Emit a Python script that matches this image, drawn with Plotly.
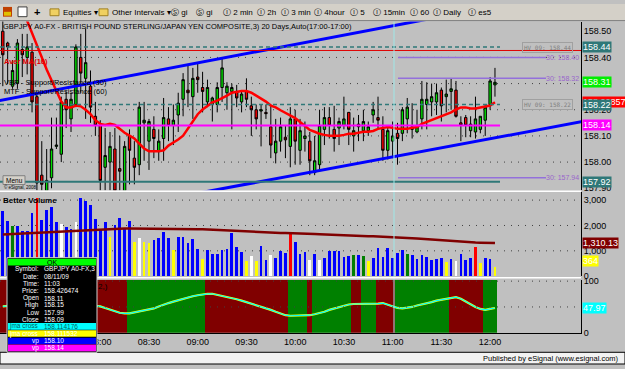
import plotly.graph_objects as go
import pandas as pd

W, H = 625, 369

# ---------------- data ----------------
times = pd.date_range("2009-08-11 07:00", periods=102, freq="3min")

opens = [158.50, 158.455, 158.29, 158.30, 158.43, 158.40, 158.42, 158.25, 157.95, 157.89,
         157.94, 158.06, 158.03, 158.24, 158.165, 158.22, 158.40, 158.32, 158.29, 158.175,
         158.14, 157.98, 158.00, 158.05, 157.975, 157.89, 158.10, 158.015, 157.99, 158.15,
         158.08, 158.125, 158.04, 158.09, 158.165, 158.14, 158.18, 158.24, 158.275, 158.25,
         158.325, 158.285, 158.23, 158.22, 158.22, 158.285, 158.265, 158.27, 158.27, 158.23,
         158.27, 158.215, 158.20, 158.195, 158.19, 158.135, 158.035, 158.08, 158.095, 158.06,
         158.165, 158.045, 158.09, 158.08, 157.96, 157.99, 158.125, 158.17, 158.125, 158.13,
         158.14, 158.19, 158.10, 158.145, 158.12, 158.12, 158.18, 158.17, 158.125, 158.045,
         158.08, 158.11, 158.11, 158.165, 158.125, 158.115, 158.165, 158.22, 158.23, 158.23,
         158.275, 158.25, 158.27, 158.275, 158.15, 158.17, 158.12, 158.115, 158.125, 158.16,
         158.22, 158.295]
highs = [158.54, 158.46, 158.39, 158.47, 158.49, 158.49, 158.455, 158.27, 158.08, 158.05,
         158.17, 158.17, 158.25, 158.27, 158.265, 158.45, 158.49, 158.51, 158.35, 158.23,
         158.16, 158.13, 158.115, 158.13, 158.10, 158.08, 158.125, 158.08, 158.23, 158.23,
         158.165, 158.175, 158.125, 158.245, 158.21, 158.22, 158.265, 158.34, 158.375, 158.36,
         158.375, 158.345, 158.315, 158.25, 158.305, 158.40, 158.305, 158.30, 158.295, 158.275,
         158.32, 158.25, 158.22, 158.22, 158.22, 158.22, 158.165, 158.17, 158.14, 158.21,
         158.20, 158.165, 158.155, 158.115, 158.10, 158.20, 158.21, 158.21, 158.215, 158.17,
         158.25, 158.19, 158.17, 158.18, 158.20, 158.155, 158.23, 158.25, 158.175, 158.14,
         158.155, 158.15, 158.21, 158.245, 158.225, 158.20, 158.31, 158.305, 158.30, 158.30,
         158.285, 158.315, 158.32, 158.31, 158.175, 158.18, 158.175, 158.25, 158.175, 158.22,
         158.325, 158.36]
lows = [158.29, 158.30, 158.28, 158.28, 158.325, 158.335, 158.19, 157.88, 157.87, 157.87,
        157.90, 158.05, 158.00, 158.13, 158.115, 158.21, 158.265, 158.165, 158.15, 158.10,
        157.87, 157.87, 157.89, 157.87, 157.87, 157.87, 157.915, 157.915, 157.95, 158.005,
        157.97, 158.015, 158.005, 158.005, 158.08, 158.065, 158.115, 158.175, 158.21, 158.165,
        158.265, 158.19, 158.21, 158.155, 158.19, 158.23, 158.20, 158.125, 158.21, 158.19,
        158.21, 158.10, 158.125, 158.06, 158.165, 158.015, 157.995, 158.04, 158.015, 157.98,
        157.99, 157.99, 158.04, 157.95, 157.95, 157.965, 158.065, 158.09, 158.04, 158.065,
        158.125, 158.065, 158.04, 158.08, 158.08, 158.10, 158.15, 158.125, 158.005, 158.01,
        158.015, 157.99, 158.08, 158.11, 158.09, 158.11, 158.125, 158.125, 158.175, 158.18,
        158.155, 158.19, 158.20, 158.17, 158.08, 158.095, 158.095, 158.09, 158.11, 158.10,
        158.20, 158.25]
closes = [158.41, 158.44, 158.35, 158.455, 158.41, 158.44, 158.23, 157.92, 157.915, 157.93,
          158.05, 158.065, 158.23, 158.20, 158.24, 158.44, 158.34, 158.38, 158.21, 158.14,
          157.93, 158.025, 158.06, 157.89, 157.965, 158.06, 158.045, 157.98, 158.21, 158.16,
          158.155, 158.09, 158.08, 158.17, 158.14, 158.16, 158.225, 158.315, 158.265, 158.32,
          158.315, 158.27, 158.285, 158.245, 158.285, 158.36, 158.29, 158.285, 158.245, 158.26,
          158.24, 158.20, 158.165, 158.20, 158.185, 158.065, 158.08, 158.135, 158.085, 158.165,
          158.08, 158.12, 158.10, 158.005, 158.005, 158.14, 158.17, 158.14, 158.09, 158.155,
          158.165, 158.125, 158.12, 158.135, 158.155, 158.135, 158.20, 158.16, 158.045, 158.12,
          158.10, 158.09, 158.20, 158.21, 158.135, 158.135, 158.24, 158.24, 158.25, 158.265,
          158.215, 158.26, 158.28, 158.175, 158.14, 158.14, 158.145, 158.165, 158.175, 158.21,
          158.31, 158.305]
ma10 = [158.76, 158.72, 158.68, 158.64, 158.586, 158.54, 158.49, 158.444, 158.396, 158.354,
        158.313, 158.269, 158.231, 158.209, 158.209, 158.216, 158.213, 158.20, 158.183, 158.16,
        158.146, 158.142, 158.146, 158.142, 158.127, 158.112, 158.101, 158.09, 158.071, 158.052,
        158.041, 158.041, 158.041, 158.045, 158.063, 158.075, 158.086, 158.101, 158.127, 158.157,
        158.183, 158.201, 158.213, 158.228, 158.235, 158.243, 158.254, 158.265, 158.269, 158.272,
        158.272, 158.265, 158.254, 158.243, 158.231, 158.216, 158.209, 158.198, 158.187, 158.179,
        158.168, 158.153, 158.138, 158.123, 158.116, 158.108, 158.104, 158.101, 158.101, 158.101,
        158.104, 158.108, 158.108, 158.112, 158.116, 158.116, 158.119, 158.127, 158.131, 158.134,
        158.131, 158.127, 158.127, 158.127, 158.131, 158.134, 158.146, 158.153, 158.16, 158.168,
        158.175, 158.183, 158.19, 158.201, 158.209, 158.209, 158.205, 158.205, 158.209, 158.213,
        158.216, 158.2286]

volume = [2560, 2160, 1950, 1950, 1773, 1773, 2480, 3080, 2213, 2613,
          2706, 2106, 2040, 1946, 1853, 2106, 3080, 2973, 2813, 2253,
          1853, 2106, 1546, 2013, 2280, 1906, 2173, 1346, 1480, 1346,
          1280, 1413, 1480, 1720, 1506, 1040, 1520, 1520, 1280, 1440,
          1080, 653, 1013, 853, 853, 1013, 1080, 1680, 1146, 946,
          573, 773, 573, 1173, 613, 813, 720, 973, 920, 1720,
          1346, 880, 946, 613, 880, 613, 706, 973, 973, 973,
          746, 773, 813, 813, 786, 573, 706, 1120, 746, 1120,
          720, 920, 1013, 880, 813, 653, 813, 746, 613, 680,
          720, 546, 680, 573, 866, 613, 720, 1146, 520, 720,
          653, 364]
vol_kind = list("bbgbbbbrbb" "bbwbbwbbbb" "bbybbbbywy" "ybbbbybbbb" "bybbbbbbbb"
                "ywybbwbbbr" "bbbwbwbbbb" "bbgbgybbbb" "bbbgbbbbbb" "bybwbbbryb" "by")
vol_ma = [1645, 1655, 1665, 1675, 1685, 1695, 1715, 1725, 1735, 1745,
          1755, 1765, 1775, 1785, 1795, 1805, 1810, 1815, 1825, 1835,
          1845, 1860, 1870, 1875, 1880, 1880, 1880, 1880, 1880, 1880,
          1880, 1878, 1876, 1874, 1872, 1870, 1866, 1862, 1858, 1855,
          1855, 1850, 1840, 1830, 1815, 1800, 1790, 1780, 1770, 1760,
          1745, 1738, 1731, 1724, 1717, 1712, 1708, 1705, 1702, 1700,
          1698, 1690, 1682, 1672, 1662, 1652, 1642, 1632, 1622, 1614,
          1600, 1595, 1590, 1585, 1580, 1575, 1570, 1565, 1560, 1555,
          1550, 1540, 1530, 1515, 1500, 1485, 1470, 1455, 1440, 1425,
          1415, 1400, 1385, 1370, 1355, 1340, 1330, 1325, 1320, 1315,
          1312, 1310.13]

osc = [51, 52, 53, 54, 55, 56, 57, 57, 57, 57, 57, 56, 56, 55, 55, 54, 54, 53, 52, 51,
       51, 48, 45, 41.5, 38.7, 37.7, 37.7, 39.6, 41.5, 43.4,
       45.3, 47.2, 51, 54.7, 57.5, 60.4, 63.2, 66, 67.9, 70.8,
       72.6, 74.5, 75.5, 75.5, 73.6, 71.7, 69.8, 67, 65, 62.3,
       59.4, 56.6, 53.8, 51, 48.1, 44.3, 40.6, 36.8, 34, 33,
       33, 33, 34, 34, 35.8, 37.7, 40.6, 44.3, 47.2, 50,
       52.8, 54.7, 55.7, 55.7, 55.7, 55.7, 55.7, 56.6, 57.5, 54.7,
       51, 48.1, 47.2, 48.1, 50, 52.8, 54.7, 56.6, 59.4, 62.3,
       64.2, 66, 67.9, 68.9, 66, 60.4, 54.7, 50, 46.2, 44.3,
       46.2, 47.97]
# oscillator regime by bar range (first bar, last bar, state)
osc_regions = [(0, 25, "dn"), (26, 41, "up"), (42, 58, "dn"), (59, 62, "up"), (63, 63, "dn"),
               (64, 71, "up"), (72, 73, "dn"), (74, 76, "up"), (77, 80, "dn"), (81, 91, "up"),
               (92, 98, "dn"), (99, 101, "up")]

# trend lines (time, price)
trend_upper = [("2009-08-11 06:58", 158.235), ("2009-08-11 11:30", 158.556)]
trend_lower = [("2009-08-11 09:00", 157.881), ("2009-08-11 12:57", 158.155)]

hv_levels = [158.44, 158.22]
vbp30_levels = [158.40, 158.32, 157.94]
vp_level = 158.14
sr_level = 157.925
cursor_price = 158.426474

price_ticks = [157.90, 158.00, 158.10, 158.20, 158.30, 158.40, 158.50]
vol_ticks = [0, 1000, 2000, 3000]
osc_ticks = [0, 100]
time_ticks = pd.date_range("2009-08-11 08:00", "2009-08-11 12:00", freq="30min")

# ---------------- figure ----------------
def px_x(p):
    return p / W

def px_y(p):
    return 1 - p / H

FONT = "Liberation Sans"
bar = pd.Timedelta(minutes=3)
spacing = 4.873  # px per bar
x_left = times[0] - bar * (2.8 / spacing)
x_right = times[0] + bar * ((581 - 2.8) / spacing)

fig = go.Figure()

fig.add_trace(go.Candlestick(
    x=times, open=opens, high=highs, low=lows, close=closes,
    increasing=dict(line=dict(color="black", width=1), fillcolor="#00e000"),
    decreasing=dict(line=dict(color="black", width=1), fillcolor="#ff0000"),
    xaxis="x", yaxis="y", hoverinfo="skip"))
fig.add_trace(go.Scatter(x=times, y=ma10, mode="lines", line=dict(color="#ff0000", width=2.5),
                         xaxis="x", yaxis="y", hoverinfo="skip"))
for tl in (trend_upper, trend_lower):
    fig.add_trace(go.Scatter(x=[p[0] for p in tl], y=[p[1] for p in tl], mode="lines",
                             line=dict(color="#0000ff", width=3), xaxis="x", yaxis="y",
                             hoverinfo="skip"))

kind_color = {"b": "#0000ff", "y": "#ffff00", "w": "#ffffff", "r": "#ff0000", "g": "#008000"}
fig.add_trace(go.Bar(x=times, y=volume, marker=dict(color=[kind_color[k] for k in vol_kind], line=dict(width=0)),
                     width=bar.total_seconds() * 1000 * 0.56, xaxis="x2", yaxis="y2", hoverinfo="skip"))
fig.add_trace(go.Scatter(x=times, y=vol_ma, mode="lines", line=dict(color="#800000", width=2.5),
                         xaxis="x2", yaxis="y2", hoverinfo="skip"))

state_color = {"dn": "#800000", "up": "#008000"}
bg_cols = []
for a, b, s in osc_regions:
    bg_cols += [state_color[s]] * (b - a + 1)
fig.add_trace(go.Bar(x=times, y=[102] * len(times), marker=dict(color=bg_cols, line=dict(width=0)),
                     width=bar.total_seconds() * 1000, xaxis="x3", yaxis="y3", hoverinfo="skip"))
fig.add_trace(go.Scatter(x=times, y=osc, mode="lines", line=dict(color="#ffff00", width=2.2),
                         xaxis="x3", yaxis="y3", hoverinfo="skip"))
fig.add_trace(go.Scatter(x=times, y=osc, mode="lines", line=dict(color="#00ffff", width=1.2),
                         xaxis="x3", yaxis="y3", hoverinfo="skip"))

xa = dict(range=[x_left, x_right], domain=[0, 581 / W], showgrid=False, zeroline=False,
          showticklabels=False, fixedrange=True)
tickfont = dict(family=FONT, size=9, color="black")
fig.update_layout(
    width=W, height=H, margin=dict(l=0, r=0, t=0, b=0),
    paper_bgcolor="#c0c0c0", plot_bgcolor="#c0c0c0", showlegend=False,
    xaxis=dict(xa, anchor="y", rangeslider=dict(visible=False)),
    xaxis2=dict(xa, anchor="y2", matches="x"),
    xaxis3=dict(xa, anchor="y3", matches="x", showticklabels=True, tickvals=time_ticks,
                tickformat="%H:%M", tickfont=tickfont, showline=True, linecolor="black",
                linewidth=1, ticks=""),
    yaxis=dict(domain=[px_y(191), px_y(18)], range=[157.892, 158.537], side="right", anchor="x",
               tickvals=price_ticks, ticktext=[f"{v:.2f}" for v in price_ticks], tickfont=tickfont,
               showgrid=False, zeroline=False, showline=True, linecolor="black", ticks=""),
    yaxis2=dict(domain=[px_y(279), px_y(193)], range=[0, 3308], side="right", anchor="x2",
                tickvals=vol_ticks, ticktext=[f"{v:,}" for v in vol_ticks], tickfont=tickfont,
                showgrid=False, zeroline=False, showline=True, linecolor="black", ticks=""),
    yaxis3=dict(domain=[px_y(337), px_y(283)], range=[0, 102], side="right", anchor="x3",
                tickvals=osc_ticks, ticktext=[str(v) for v in osc_ticks], tickfont=tickfont,
                showgrid=False, zeroline=False, showline=True, linecolor="black", ticks=""),
    bargap=0,
)

shapes = []

def hline_data(yref, yv, x0p, x1p, color, width=1, dash="solid", layer="above"):
    shapes.append(dict(type="line", xref="paper", yref=yref, x0=px_x(x0p), x1=px_x(x1p), y0=yv, y1=yv,
                       line=dict(color=color, width=width, dash=dash), layer=layer))

def rect(x0, y0, x1, y1, fill, line=None, lw=1, layer="above"):
    shapes.append(dict(type="rect", xref="paper", yref="paper", x0=px_x(x0), x1=px_x(x1),
                       y0=px_y(y1), y1=px_y(y0), fillcolor=fill,
                       line=dict(color=line or fill, width=lw if line else 0), layer=layer))

def pline(x0, y0, x1, y1, color, width=1, dash="solid"):
    shapes.append(dict(type="line", xref="paper", yref="paper", x0=px_x(x0), x1=px_x(x1),
                       y0=px_y(y0), y1=px_y(y1), line=dict(color=color, width=width, dash=dash)))

GRID = dict(color="#404040", width=1, dash="1px,6px")
# price grid
for v in price_ticks[1:-1]:
    hline_data("y", v, 0, 581, GRID["color"], 1, GRID["dash"], layer="below")
# volume grid
for v in [1000, 2000, 3000]:
    hline_data("y2", v, 0, 581, GRID["color"], 1, GRID["dash"], layer="below")
# osc grid
for v in [50, 100]:
    hline_data("y3", v, 0, 581, GRID["color"], 1, GRID["dash"])

# price levels
for lv in hv_levels:
    hline_data("y", lv, 0, 500, "#2f7878", 1.5, "4px,3px")
hline_data("y", sr_level, 0, 500, "#2f7878", 2)
hline_data("y", vp_level, 0, 500, "#ff00ff", 2)
for lv in vbp30_levels:
    hline_data("y", lv, 398, 546, "#9370db", 1.5)
hline_data("y", cursor_price, 0, 581, "#e00000", 1)

# crosshair vertical
pline(394, 18, 394, 337, "#9fe8e8", 1)

# panel separators
pline(0, 192, 581, 192, "#ffffff", 1.5)
pline(0, 280.5, 581, 280.5, "#ffffff", 1.5)

# toolbar
rect(0, 0, 625, 16.5, "#d4d0c8")
pline(0, 17, 625, 17, "#808080", 1)
rect(3, 3, 12, 13, "#c04000")
rect(4, 8, 11, 12, "#e0c000")
rect(18, 3, 27, 13, "#ffffff", "#404040")
for xf in [50, 99]:
    rect(xf, 5, xf + 9, 12, "#f0d060", "#a08020")

# bottom strip
rect(0, 357, 625, 369, "#f2f2f2", "#000000", 1)

# menu button
rect(3, 176, 25, 185, "#d4d0c8", "#808080", 1)

# tooltip box
rect(7, 260, 97, 357, "#000000", "#d0d0d0", 1)
rect(8, 261, 96, 268, "#00ff00")
rect(8, 327, 96, 334, "#00ffff")
rect(8, 334.5, 96, 341, "#ffff00")
rect(8, 342, 96, 348.5, "#0000ff")
rect(8, 349, 96, 356, "#ff00ff")

fig.update_layout(shapes=shapes)

ann = []

def txt(x, y, s, size=8, color="black", xanchor="left", bg=None, family=FONT, border=None,
        yref="paper", yv=None, yanchor="middle"):
    d = dict(x=px_x(x), xref="paper", text=s, showarrow=False, xanchor=xanchor, yanchor=yanchor,
             font=dict(size=size, color=color, family=family), borderpad=0)
    if yv is not None:
        d.update(y=yv, yref=yref)
    else:
        d.update(y=px_y(y), yref="paper")
    if bg:
        d["bgcolor"] = bg
    if border:
        d["bordercolor"] = border
        d["borderwidth"] = 1
        d["borderpad"] = 1
    ann.append(d)

# toolbar text
txt(33, 8, "<b>+</b>", 11)
tb = [(62, "Equities ▾"), (111, "Other Intervals ▾"), (170, "Ⓢ gi"), (195, "Ⓢ gi"), (222, "Ⓘ 2 min"),
      (256, "Ⓘ 2h"), (280, "Ⓘ 3 min"), (313, "Ⓘ 4hour"), (349, "Ⓘ 5"), (372, "Ⓘ 15min"),
      (409, "Ⓘ 60"), (432, "Ⓘ Daily"), (467, "Ⓘ es5")]
for x, s in tb:
    txt(x, 8.5, s, 8)

# price panel texts
txt(2, 23, "GBPJPY A0-FX - BRITISH POUND STERLING/JAPAN YEN COMPOSITE,3) 20 Days,Auto(17:00-17:00)", 7.5)
txt(3, 59, "<b>Aver MA(10)</b>", 7.5, "#e00000")
txt(3, 80, "VBP - Support/Resistance (30)", 7.5)
txt(3, 90, "MTF - Support/Resistance (60)", 7.5)
txt(14, 180.5, "Menu", 6.5, xanchor="center")
txt(3, 188, "© eSignal, 2008", 4.5)
txt(547, 44.5, "HV 09: 158.44", 6, "#808080", "center", family="DejaVu Sans Mono", border="#a0a0a0")
txt(547, 103, "HV 09: 158.22", 6, "#808080", "center", family="DejaVu Sans Mono", border="#a0a0a0")
for lv in vbp30_levels:
    txt(580, 0, f"30: {lv:.2f}", 7, "#9966cc", "right", yref="y", yv=lv)

# volume / osc titles
txt(2, 201, "<b>Better Volume</b>", 8)
txt(97, 290, "2,)", 8)

# right axis boxes
def box(yref, yv, s, bg, color="white", yanchor="middle"):
    txt(582, 0, s, 9, color, "left", bg=bg, yref=yref, yv=yv, yanchor=yanchor)

box("y", hv_levels[0], "158.44", "#2f7878")
box("y", closes[-1], f"{closes[-1]:.2f}", "#00ee00")
box("y", ma10[-1], "158.228571", "#ff0000")
box("y", hv_levels[1], "158.22", "#2f7878")
box("y", vp_level, "158.14", "#ff00ff")
box("y", sr_level, "157.92", "#2f7878")
box("y2", vol_ma[-1], f"{vol_ma[-1]:,.2f}", "#800000")
box("y2", volume[-1], f"{volume[-1]}", "#ffff00", yanchor="bottom")
box("y3", osc[-1], f"{osc[-1]:.2f}", "#00ffff")

# tooltip
txt(52, 264.5, "OK", 7, "black", "center")
rows = [("Symbol:", "GBPJPY A0-FX,3"), ("Date:", "08/11/09"), ("Time:", "11:03"), ("Price:", "158.426474"),
        ("Open", "158.11"), ("High", "158.15"), ("Low", "157.99"), ("Close", "158.09")]
ys = [271.5, 279, 286.5, 294, 301.5, 308.5, 316, 323]
for (l, v), y in zip(rows, ys):
    txt(40, y, l, 6.5, "white", "right")
    txt(43, y, v, 6.5, "white", "left")
crow = [("jma cross", "158.114176", 330.5, "#006060"), ("jma cross", "158.111532", 337.8, "#ffffff"),
        ("vp", "158.10", 345.2, "#ffffff"), ("vp", "158.14", 352.5, "#ffffff")]
for l, v, y, c in crow:
    txt(40, y, l, 6.5, c, "right")
    txt(43, y, v, 6.5, c, "left")

txt(620, 363, "Published by eSignal (www.esignal.com)", 7.5, "black", "right")

fig.update_layout(annotations=ann)
fig.write_html("out.html")
